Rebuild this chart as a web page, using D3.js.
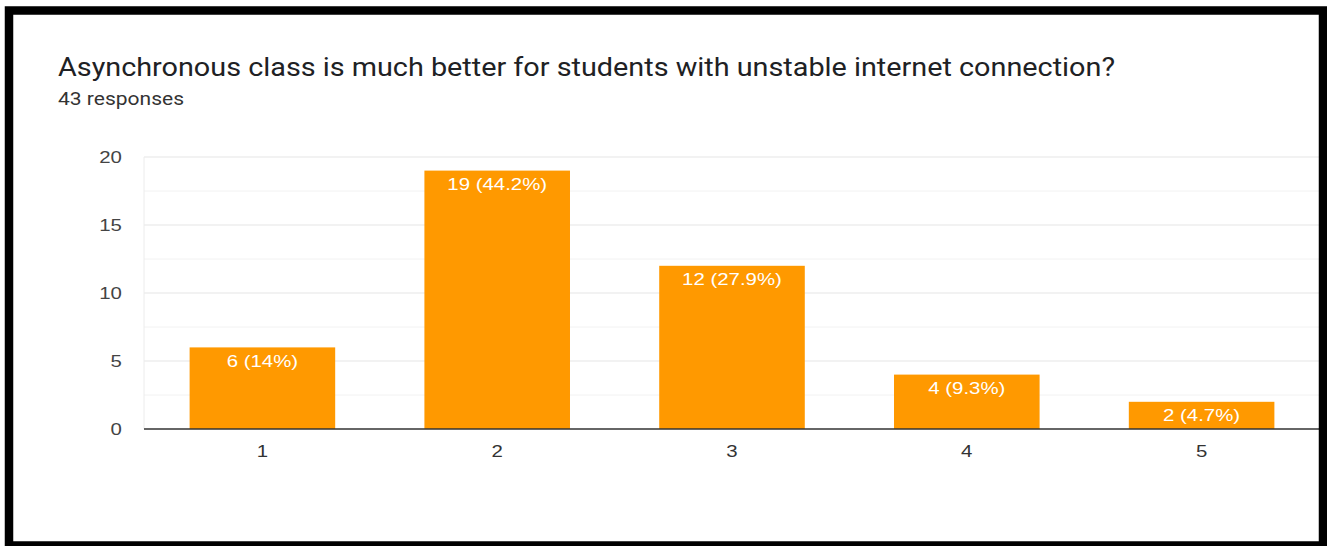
<!DOCTYPE html>
<html><head><meta charset="utf-8">
<script src="https://cdn.jsdelivr.net/npm/d3@7"></script>
<style>body{margin:0;background:#fff}svg{display:block}</style>
</head><body>
<svg id="c" width="1327" height="546"></svg>
<script>
const categories = ["1","2","3","4","5"];
const counts = [6, 19, 12, 4, 2];
const labels = ["6 (14%)","19 (44.2%)","12 (27.9%)","4 (9.3%)","2 (4.7%)"];
const yTicks = [0,5,10,15,20];
const titleText = "Asynchronous class is much better for students with unstable internet connection?";
const subtitleText = "43 responses";

const svg = d3.select("#c");
const m = {left:144, right:1319, top:157, bottom:429};
const SX = 1.2; // horizontal stretch seen in the reference text

const x = d3.scaleBand().domain(categories).range([m.left + 1, m.right]).paddingInner(0.38).paddingOuter(0.19);
const y = d3.scaleLinear().domain([0,20]).range([m.bottom, m.top]);

function stretch(sel, f) {
  sel.each(function(){ const w = this.getComputedTextLength(); this.setAttribute("textLength", w*f); this.setAttribute("lengthAdjust","spacingAndGlyphs"); });
}

// grid
const g = svg.append("g");
g.selectAll("line.minor").data(d3.range(2.5, 20, 5)).join("line")
  .attr("x1", m.left).attr("x2", 1327).attr("y1", d=>y(d)).attr("y2", d=>y(d))
  .attr("stroke","#f2f2f2").attr("stroke-width",1);
g.selectAll("line.major").data(yTicks.slice(1)).join("line")
  .attr("x1", m.left).attr("x2", 1327).attr("y1", d=>y(d)).attr("y2", d=>y(d))
  .attr("stroke","#e6e6e6").attr("stroke-width",1.2);
g.append("line").attr("x1",m.left).attr("x2",m.left).attr("y1",y(20)).attr("y2",y(0)).attr("stroke","#ececec");

// y labels
svg.append("g").selectAll("text").data(yTicks).join("text")
  .attr("x", 122).attr("y", d=>y(d)+6).attr("text-anchor","end")
  .attr("font-family","Arial, 'Liberation Sans', sans-serif").attr("font-size",17).attr("fill","#444")
  .text(d=>d).call(stretch, SX);

// bars
svg.append("g").selectAll("rect").data(counts).join("rect")
  .attr("x",(d,i)=>x(categories[i])).attr("width",x.bandwidth())
  .attr("y",d=>y(d)).attr("height",d=>y(0)-y(d)).attr("fill","#ff9900");

svg.append("g").selectAll("text").data(counts).join("text")
  .attr("x",(d,i)=>x(categories[i])+x.bandwidth()/2).attr("y",d=>y(d)+19.5)
  .attr("text-anchor","middle").attr("font-family","Arial, 'Liberation Sans', sans-serif")
  .attr("font-size",17).attr("fill","#fff").text((d,i)=>labels[i]).call(stretch, SX);

// x axis
svg.append("line").attr("x1",m.left).attr("x2",1327).attr("y1",y(0)).attr("y2",y(0)).attr("stroke","#333").attr("stroke-width",1.5);
svg.append("g").selectAll("text").data(categories).join("text")
  .attr("x",d=>x(d)+x.bandwidth()/2).attr("y",457).attr("text-anchor","middle")
  .attr("font-family","Arial, 'Liberation Sans', sans-serif").attr("font-size",17).attr("fill","#333").text(d=>d).call(stretch, SX);

// title
svg.append("text").attr("x",58).attr("y",76).attr("font-family","Roboto, 'Open Sans', sans-serif")
  .attr("font-size",26).attr("fill","#202124").text(titleText).attr("textLength",1057).attr("lengthAdjust","spacingAndGlyphs");
svg.append("text").attr("x",58).attr("y",105).attr("font-family","Roboto, 'Open Sans', sans-serif")
  .attr("font-size",18.5).attr("fill","#333").text(subtitleText).attr("textLength",126).attr("lengthAdjust","spacingAndGlyphs");

// frame
svg.append("rect").attr("x",9).attr("y",10.5).attr("width",1314).attr("height",535)
  .attr("fill","none").attr("stroke","#000").attr("stroke-width",8.5);
</script>
</body></html>
